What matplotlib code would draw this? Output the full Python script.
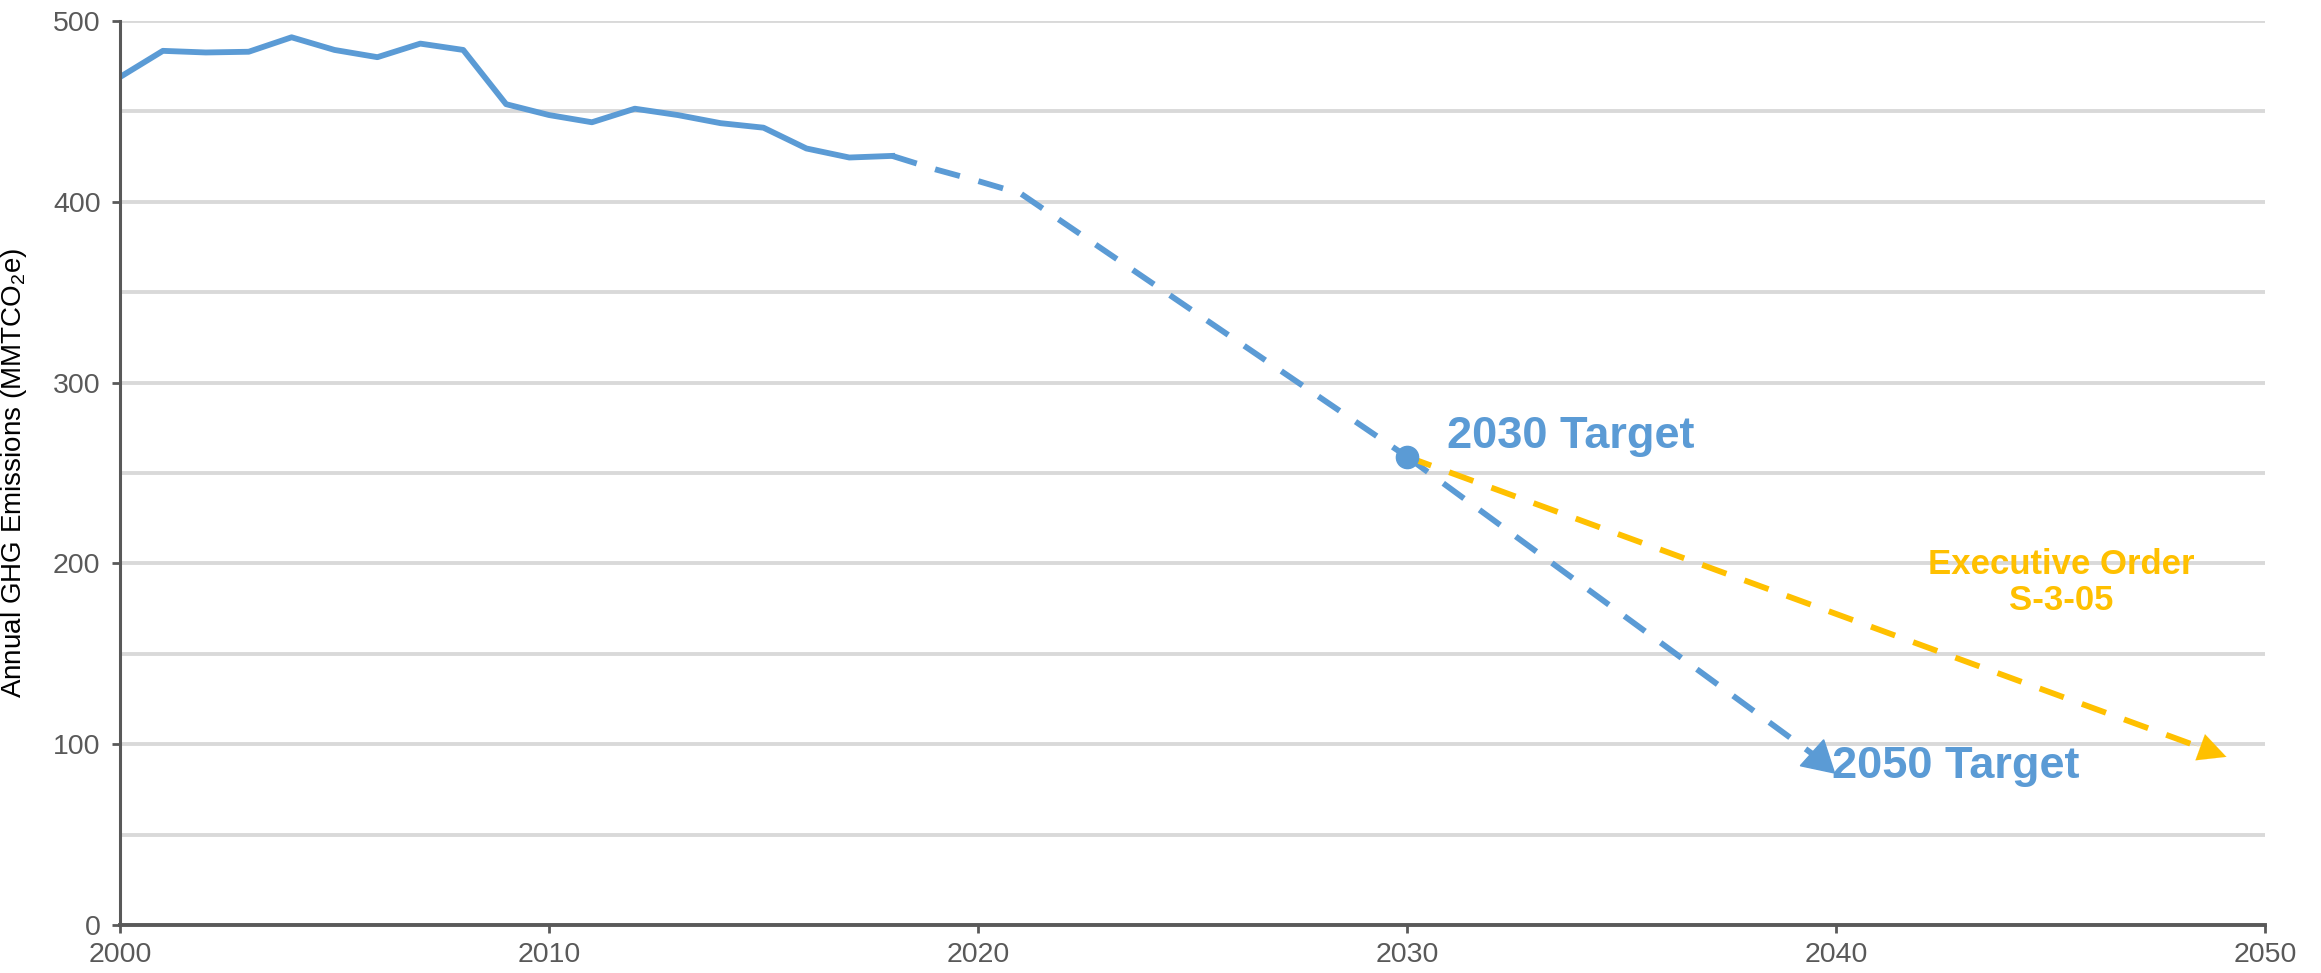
import matplotlib
matplotlib.use('Agg')
import matplotlib.pyplot as plt
import numpy as np

plt.rcParams['font.family'] = ['Liberation Sans', 'DejaVu Sans']
plt.rcParams['mathtext.fontset'] = 'custom'
plt.rcParams['mathtext.rm'] = 'Liberation Sans'
plt.rcParams['mathtext.it'] = 'Liberation Sans:italic'

# Данные
hist_years = list(range(2000, 2019))
hist_vals = [469, 483.5, 482.6, 483, 491, 484, 480, 487.5, 484, 454,
             448, 444, 451.5, 448, 443.5, 441, 429.5, 424.5, 425.4]

proj_years = [2018, 2019, 2020, 2021, 2030]
proj_vals = [425.4, 418, 411.5, 404.5, 259]

target_years = [2030, 2039.6]
target_vals = [259, 92]

eo_years = [2030, 2049.1]
eo_vals = [259, 93]

x_ticks = [2000, 2010, 2020, 2030, 2040, 2050]
y_ticks = [0, 100, 200, 300, 400, 500]

blue = '#5B9BD5'
gold = '#FFC000'
gray = '#595959'
dash = (0, (4.4, 3.3))
lw = 4.2

fig = plt.figure(figsize=(23.21, 9.73), dpi=100)
ax = fig.add_axes([0.0517, 0.0493, 0.9242, 0.9291])

# сетка
ax.set_yticks(y_ticks)
ax.set_yticks(np.arange(50, 500, 100), minor=True)
ax.grid(True, which='both', axis='y', color='#D9D9D9', linewidth=2.8, zorder=0)
ax.set_axisbelow(True)

# линии
ax.plot(hist_years, hist_vals, color=blue, linewidth=lw, zorder=3)
ax.plot(proj_years, proj_vals, color=blue, linewidth=lw, linestyle=dash, zorder=3)
ax.plot(target_years, target_vals, color=blue, linewidth=lw, linestyle=dash, zorder=3)
ax.plot(eo_years[:1] + [eo_years[0] + 0.96 * (eo_years[1] - eo_years[0])],
        eo_vals[:1] + [eo_vals[0] + 0.96 * (eo_vals[1] - eo_vals[0])],
        color=gold, linewidth=lw, linestyle=dash, zorder=3)

# маркеры
ax.plot(proj_years[-1], proj_vals[-1], 'o', color=blue, markersize=16, zorder=5)
ax.plot(target_years[-1], target_vals[-1], marker=(3, 0, -12), color=blue,
        markersize=29, linestyle='none', zorder=5)
ax.annotate('', xy=(eo_years[1], eo_vals[1]),
            xytext=(eo_years[1] - 0.06 * (eo_years[1] - eo_years[0]),
                    eo_vals[1] - 0.06 * (eo_vals[1] - eo_vals[0])),
            arrowprops=dict(arrowstyle='-|>,head_length=2.0,head_width=1.0',
                            color=gold, lw=0.1, shrinkA=0, shrinkB=0), zorder=5)

# подписи
ax.text(2030.93, 263.6, '2030 Target', color=blue, fontsize=32.5, fontweight='bold',
        ha='left', va='baseline')
ax.text(2039.91, 81.3, '2050 Target', color=blue, fontsize=32.5, fontweight='bold',
        ha='left', va='baseline')
ax.text(2045.25, 189.5, 'Executive Order\nS-3-05', color=gold, fontsize=25,
        fontweight='bold', ha='center', va='center', linespacing=1.12)

ax.set_xlim(2000, 2050)
ax.set_ylim(0, 500)
ax.set_xticks(x_ticks)

for s in ['top', 'right']:
    ax.spines[s].set_visible(False)
for s in ['left', 'bottom']:
    ax.spines[s].set_color(gray)
    ax.spines[s].set_zorder(4)
ax.spines['left'].set_linewidth(2.2)
ax.spines['bottom'].set_linewidth(2.8)

ax.tick_params(axis='both', which='major', direction='out', length=6, width=2,
               color=gray, labelcolor=gray, labelsize=20.5, pad=8)
ax.tick_params(axis='y', which='minor', length=0)
ax.tick_params(axis='x', pad=6)

ax.set_ylabel('Annual GHG Emissions (MMTCO$_2$e)', fontsize=20, color='black')
ax.yaxis.set_label_coords(-0.0424, 0.5)

fig.savefig('out.png', dpi=100)
